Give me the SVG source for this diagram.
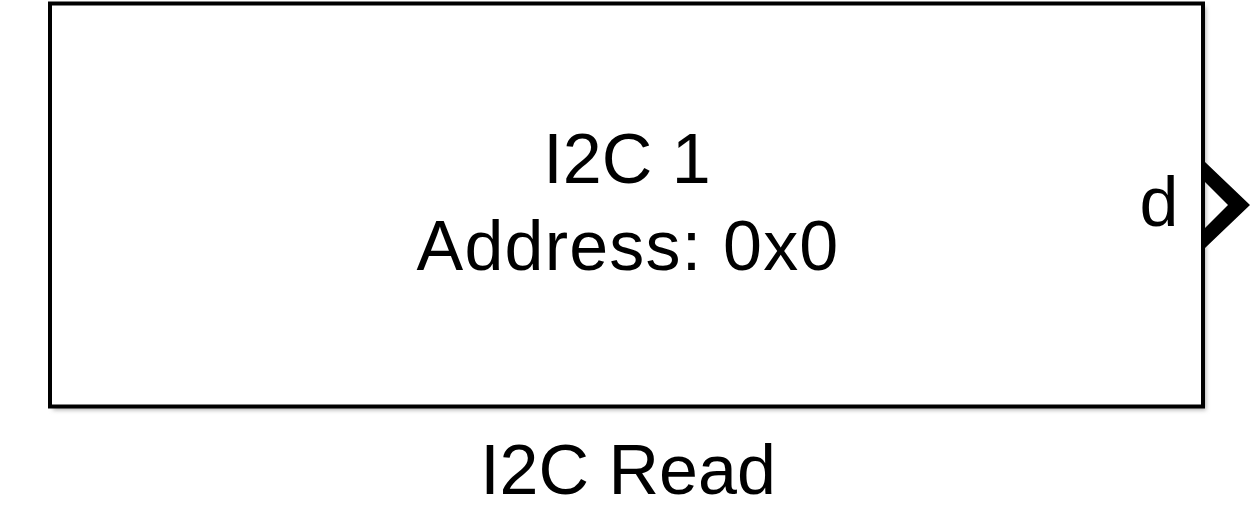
<svg xmlns="http://www.w3.org/2000/svg" width="1253" height="507" viewBox="0 0 1253 507">
  <defs>
    <filter id="shadow" x="-5%" y="-5%" width="110%" height="110%">
      <feGaussianBlur stdDeviation="2"/>
    </filter>
    <style>
      .lbl { font-family: "Liberation Sans", Arial, sans-serif; font-size: 70px; fill: #000; text-anchor: middle; }
    </style>
  </defs>
  <rect width="1253" height="507" fill="#ffffff"/>
  <g id="i2c-read">
    <rect x="53" y="7" width="1153" height="403" fill="#b0b0b0" filter="url(#shadow)"/>
    <rect x="50" y="3.5" width="1153" height="403" fill="#ffffff" stroke="#000000" stroke-width="4"/>
    <text class="lbl" x="627" y="183">I2C 1</text>
    <text class="lbl" x="628" y="270" letter-spacing="1.2">Address: 0x0</text>
    <text class="lbl" x="1159" y="226">d</text>
    <text class="lbl" x="628" y="494">I2C Read</text>
  </g>
  <g id="connectors">
    <polygon points="1205,162 1250,205 1205,248 1205,228 1228,205 1205,182" fill="#000000"/>
  </g>
</svg>
